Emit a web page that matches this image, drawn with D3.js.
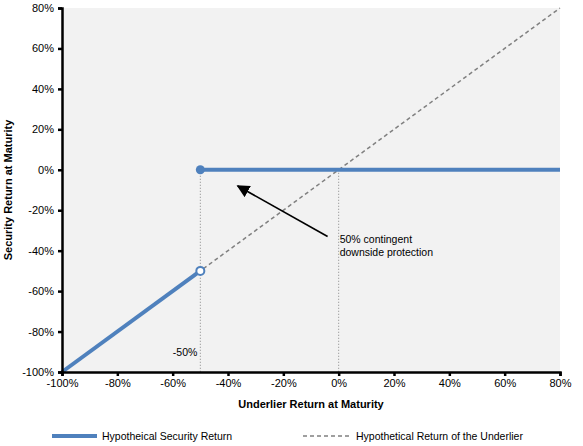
<!DOCTYPE html>
<html>
<head>
<meta charset="utf-8">
<script src="https://cdn.jsdelivr.net/npm/d3@7"></script>
<style>
  html, body { margin: 0; padding: 0; background: #fff; overflow: hidden; }
  svg { display: block; }
  text { font-family: "Liberation Sans", Arial, sans-serif; }
  .tick text { font-size: 11px; fill: #000; }
  .axis-label { font-size: 11px; font-weight: bold; fill: #000; }
</style>
</head>
<body>
<svg id="d" width="583" height="446"></svg>
<script>
  const xTicks = [-1, -0.8, -0.6, -0.4, -0.2, 0, 0.2, 0.4, 0.6, 0.8];
  const yTicks = [-1, -0.8, -0.6, -0.4, -0.2, 0, 0.2, 0.4, 0.6, 0.8];

  // payoff of the security
  const securityLow = [[-1, -1], [-0.5, -0.5]];
  const securityHigh = [[-0.5, 0], [0.8, 0]];
  // underlier return
  const underlier = [[-1, -1], [0.8, 0.8]];
  // dotted guides
  const guides = [[-0.5, 0], [0, 0]];
  // arrow from text to level
  const arrowFrom = [-0.04, -0.33];
  const arrowTo = [-0.365, -0.08];
  const noteLines = ['50% contingent', 'downside protection'];

  const svg = d3.select('#d');
  const margin = { top: 8, right: 23, bottom: 74, left: 62 };
  const width = +svg.attr('width');
  const height = +svg.attr('height');
  const innerWidth = width - margin.left - margin.right;
  const innerHeight = height - margin.top - margin.bottom;

  const x = d3.scaleLinear().domain([-1, 0.8]).range([0, innerWidth]);
  const y = d3.scaleLinear().domain([-1, 0.8]).range([innerHeight, 0]);
  // plain hyphen instead of the unicode minus
  const pct = v => d3.format('.0%')(v).replace('\u2212', '-');

  const defs = svg.append('defs');
  defs.append('marker')
      .attr('id', 'arrow')
      .attr('viewBox', '0 0 10 10')
      .attr('refX', 9).attr('refY', 5)
      .attr('markerWidth', 8).attr('markerHeight', 8)
      .attr('orient', 'auto')
    .append('path')
      .attr('d', 'M0,0L10,5L0,10z')
      .attr('fill', '#000');

  const g = svg.append('g')
    .attr('transform', `translate(${margin.left},${margin.top})`);

  g.append('rect')
    .attr('width', innerWidth)
    .attr('height', innerHeight)
    .attr('fill', '#f2f2f2');

  const line = d3.line().x(d => x(d[0])).y(d => y(d[1]));

  // dotted guides
  g.selectAll('.guide').data(guides)
    .enter().append('line')
      .attr('class', 'guide')
      .attr('x1', d => x(d[0])).attr('x2', d => x(d[0]))
      .attr('y1', d => y(d[1])).attr('y2', y(-1))
      .attr('stroke', '#888')
      .attr('stroke-width', 1)
      .attr('stroke-dasharray', '1,2');

  g.append('path')
    .attr('d', line(underlier))
    .attr('fill', 'none')
    .attr('stroke', '#808080')
    .attr('stroke-width', 1.5)
    .attr('stroke-dasharray', '4,3');

  [securityLow, securityHigh].forEach(seg => {
    g.append('path')
      .attr('d', line(seg))
      .attr('fill', 'none')
      .attr('stroke', '#4f81bd')
      .attr('stroke-width', 4);
  });

  g.append('circle')
    .attr('cx', x(securityHigh[0][0])).attr('cy', y(securityHigh[0][1]))
    .attr('r', 4.5).attr('fill', '#4f81bd');
  g.append('circle')
    .attr('cx', x(securityLow[1][0])).attr('cy', y(securityLow[1][1]))
    .attr('r', 4).attr('fill', '#fff')
    .attr('stroke', '#4f81bd').attr('stroke-width', 2);

  // annotation
  g.append('line')
    .attr('x1', x(arrowFrom[0])).attr('y1', y(arrowFrom[1]))
    .attr('x2', x(arrowTo[0])).attr('y2', y(arrowTo[1]))
    .attr('stroke', '#000').attr('stroke-width', 1.6)
    .attr('marker-end', 'url(#arrow)');

  g.append('text')
    .attr('x', x(0) + 1).attr('y', y(-0.33) + 6)
    .style('font-size', '10.5px')
    .selectAll('tspan').data(noteLines)
    .enter().append('tspan')
      .attr('x', x(0) + 1)
      .attr('dy', (d, i) => i ? 13 : 0)
      .text(d => d);

  g.append('text')
    .attr('x', x(-0.5) - 3).attr('y', y(-0.9) + 4)
    .attr('text-anchor', 'end')
    .style('font-size', '10.5px')
    .text(pct(-0.5));

  // axes
  const xAxisG = g.append('g')
    .attr('transform', `translate(0,${innerHeight})`)
    .call(d3.axisBottom(x).tickValues(xTicks).tickFormat(pct).tickSize(4).tickPadding(3));
  const yAxisG = g.append('g')
    .call(d3.axisLeft(y).tickValues(yTicks).tickFormat(pct).tickSize(4).tickPadding(4));

  [xAxisG, yAxisG].forEach(a => {
    a.select('.domain').attr('stroke', '#000').attr('stroke-width', 2.5);
    a.selectAll('.tick line').attr('stroke', '#000').attr('stroke-width', 2.5);
  });

  g.append('text')
    .attr('class', 'axis-label')
    .attr('x', innerWidth / 2).attr('y', innerHeight + 36)
    .attr('text-anchor', 'middle')
    .text('Underlier Return at Maturity');

  g.append('text')
    .attr('class', 'axis-label')
    .attr('transform', `translate(${-50},${innerHeight / 2}) rotate(-90)`)
    .attr('text-anchor', 'middle')
    .text('Security Return at Maturity');

  // legend
  const legend = svg.append('g').attr('transform', `translate(0,${height - 10})`);
  legend.append('line')
    .attr('x1', 52).attr('x2', 97).attr('y1', 0).attr('y2', 0)
    .attr('stroke', '#4f81bd').attr('stroke-width', 4);
  legend.append('text')
    .attr('x', 102).attr('y', 4)
    .style('font-size', '10.5px')
    .text('Hypotheical Security Return');
  legend.append('line')
    .attr('x1', 303).attr('x2', 350).attr('y1', 0).attr('y2', 0)
    .attr('stroke', '#808080').attr('stroke-width', 1.5)
    .attr('stroke-dasharray', '4,3');
  legend.append('text')
    .attr('x', 356).attr('y', 4)
    .style('font-size', '10.5px')
    .text('Hypothetical Return of the Underlier');
</script>
</body>
</html>
